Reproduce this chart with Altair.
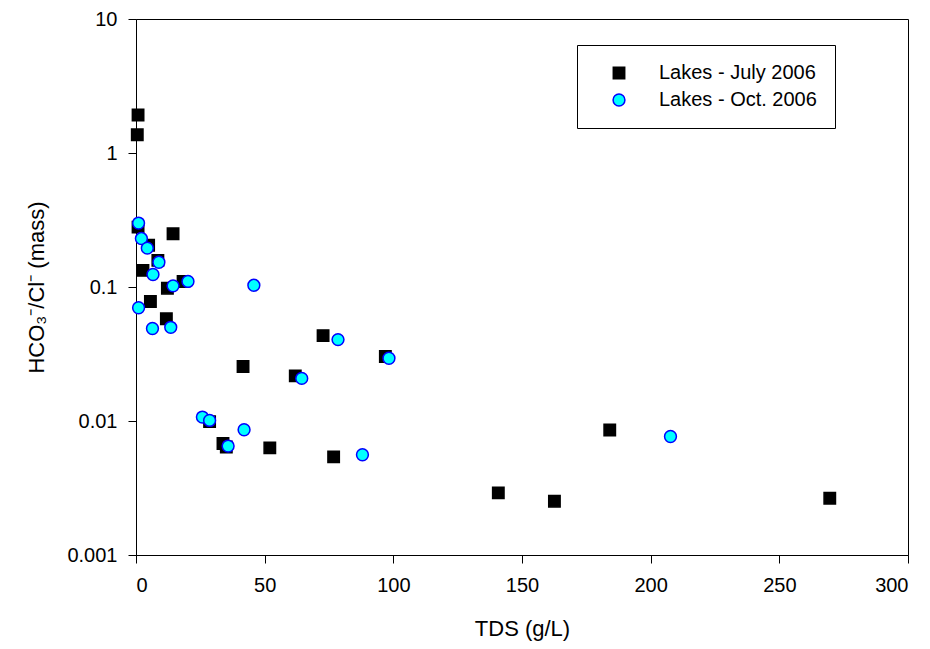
import altair as alt
import pandas as pd

# Lakes - July 2006 (black squares)
july_tds = [0.8, 0.5, 0.8, 4.9, 14.4, 8.5, 2.7, 12.2, 18.3, 5.6, 11.8,
            72.7, 96.9, 41.6, 61.9, 28.6, 33.8, 35.1, 52.0, 76.8,
            140.8, 162.6, 184.1, 269.6]
july_ratio = [1.92, 1.37, 0.28, 0.205, 0.25, 0.158, 0.133, 0.098, 0.110, 0.078, 0.058,
              0.0434, 0.0303, 0.0255, 0.0217, 0.0099, 0.0068, 0.0064, 0.0063, 0.0054,
              0.00291, 0.00252, 0.00857, 0.00265]

# Lakes - Oct. 2006 (cyan circles)
oct_tds = [1.0, 2.1, 4.4, 8.9, 6.6, 14.4, 20.2, 1.0, 6.4, 13.5,
           45.8, 78.5, 98.3, 64.4, 25.8, 28.6, 42.0, 35.8, 88.0, 207.7]
oct_ratio = [0.30, 0.23, 0.195, 0.153, 0.124, 0.102, 0.110, 0.070, 0.049, 0.050,
             0.103, 0.0405, 0.0294, 0.0208, 0.0107, 0.0101, 0.0086, 0.0065, 0.0056, 0.00766]

series_names = ["Lakes - July 2006", "Lakes - Oct. 2006"]

df = pd.DataFrame({
    "TDS": july_tds + oct_tds,
    "ratio": july_ratio + oct_ratio,
    "series": [series_names[0]] * len(july_tds) + [series_names[1]] * len(oct_tds),
})

FONT = "Liberation Sans"

legend = alt.Legend(
    title=None,
    orient="none",
    legendX=441,
    legendY=26,
    strokeColor="black",
    fillColor="white",
    padding=18,
    symbolOffset=14,
    labelOffset=30,
    rowPadding=7,
    labelFont=FONT,
    labelFontSize=20,
    labelColor="black",
)

chart = alt.Chart(df).mark_point(filled=False, opacity=1, strokeWidth=1.5).encode(
    x=alt.X("TDS:Q",
            scale=alt.Scale(domain=[0, 300], nice=False, zero=False),
            axis=alt.Axis(title="TDS (g/L)", values=[0, 50, 100, 150, 200, 250, 300],
                          grid=False, labelPadding=12, titlePadding=23)),
    y=alt.Y("ratio:Q",
            scale=alt.Scale(type="log", domain=[0.001, 10], nice=False),
            axis=alt.Axis(title="HCO₃⁻/Cl⁻ (mass)", values=[0.001, 0.01, 0.1, 1, 10],
                          format=".3~f", grid=False, labelPadding=11, titlePadding=18)),
    shape=alt.Shape("series:N", scale=alt.Scale(domain=series_names, range=["square", "circle"]), legend=legend),
    fill=alt.Fill("series:N", scale=alt.Scale(domain=series_names, range=["#000000", "#00FFFF"]), legend=legend),
    stroke=alt.Stroke("series:N", scale=alt.Scale(domain=series_names, range=["#000000", "#0000FF"]), legend=legend),
    size=alt.Size("series:N", scale=alt.Scale(domain=series_names, range=[130, 140]), legend=legend),
).properties(
    width=772,
    height=536,
    autosize=alt.AutoSizeParams(type="none"),
    padding={"left": 128, "top": 11, "right": 14, "bottom": 86},
    background="white",
).configure_view(
    stroke="black",
    strokeWidth=1,
).configure_axis(
    domainColor="black",
    domainWidth=1,
    tickColor="black",
    tickSize=8,
    tickWidth=1,
    labelFont=FONT,
    labelFontSize=20,
    labelColor="black",
    titleFont=FONT,
    titleFontSize=22,
    titleFontWeight="normal",
    titleColor="black",
)

chart.save("out.html", embed_options={"renderer": "svg", "actions": False})
